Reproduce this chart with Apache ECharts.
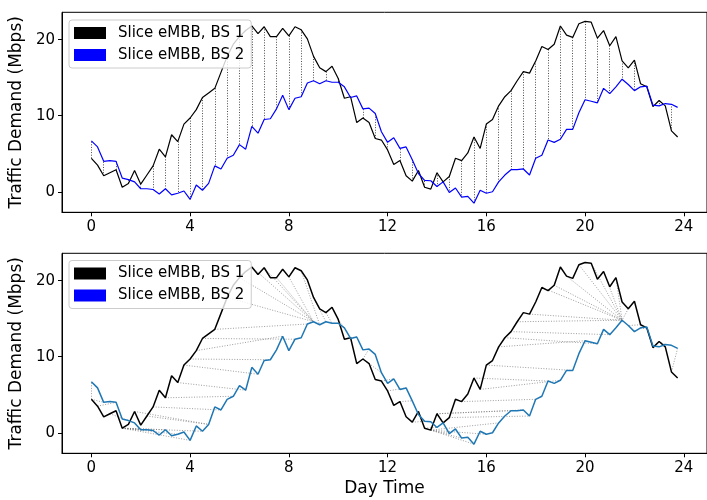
<!DOCTYPE html>
<html><head><meta charset="utf-8">
<script src="https://cdn.jsdelivr.net/npm/echarts@6/dist/echarts.min.js"></script>
<style>html,body{margin:0;padding:0;background:#fff}#c{width:707px;height:500px}</style>
</head><body><div id="c"></div>
<script>
// ---- data (15-minute samples over one day) ----
const timeStep = 0.25; // hours between samples
const bs1 = [4.4,3.5,2.1,2.5,2.9,0.6,1.1,2.8,1.0,2.2,
  3.4,5.6,4.6,7.5,6.6,8.9,9.7,10.8,12.4,13.0,
  13.6,15.7,17.8,19.4,20.4,21.2,21.8,20.8,21.7,20.4,
  20.4,21.5,20.5,21.7,21.3,20.1,17.8,16.3,15.8,16.5,
  14.9,12.3,12.5,9.1,9.7,9.1,7.0,6.8,5.5,3.6,
  4.1,2.1,1.4,2.8,0.6,0.35,2.5,1.3,2.0,4.4,
  4.1,5.1,7.2,5.7,8.9,9.5,11.3,12.5,13.3,14.6,
  15.8,15.6,17.2,19.1,18.7,19.4,21.8,20.6,20.3,22.1,
  22.4,22.3,20.2,21.2,19.2,20.4,17.2,16.3,17.3,14.2,
  13.8,11.2,12.0,11.3,8.0,7.2];
const bs2 = [6.7,5.9,4.0,4.1,4.0,1.8,1.6,1.3,0.4,0.4,
  0.3,-0.3,0.4,-0.4,-0.2,0.1,-1.0,0.9,0.2,1.1,
  3.4,3.0,4.4,4.8,6.2,5.6,8.6,7.7,9.5,9.6,
  10.9,12.7,10.8,12.3,12.5,14.3,14.6,14.2,14.6,14.4,
  14.4,13.8,12.4,12.6,10.9,11.0,10.3,7.9,6.5,7.1,
  5.7,5.9,4.2,2.4,1.5,1.45,0.7,1.3,-0.1,0.5,
  -0.7,-0.6,-1.5,0.2,-0.2,0.0,1.3,2.2,2.9,2.9,
  3.0,2.2,4.4,4.8,6.8,6.5,6.9,8.2,8.2,10.4,
  12.1,11.9,11.7,13.6,12.9,13.8,14.8,14.1,13.3,13.8,
  13.9,11.4,11.3,11.6,11.5,11.1];
const seriesNames = ['Slice eMBB, BS 1','Slice eMBB, BS 2'];
const xTicks = [0,4,8,12,16,20,24];
const yTicks = [0,10,20];

function toXY(arr){ return arr.map((v,i)=>[i*timeStep, v]); }

// dynamic time warping alignment between the two series
function dtwPath(a,b){
  const n=a.length,m=b.length,D=[];
  for(let i=0;i<n;i++){D.push(new Array(m).fill(Infinity));}
  for(let i=0;i<n;i++)for(let j=0;j<m;j++){
    const c=Math.abs(a[i]-b[j]);let best;
    if(i===0&&j===0)best=0;else{best=Infinity;
      if(i>0)best=Math.min(best,D[i-1][j]);
      if(j>0)best=Math.min(best,D[i][j-1]);
      if(i>0&&j>0)best=Math.min(best,D[i-1][j-1]);}
    D[i][j]=c+best;}
  let i=n-1,j=m-1;const path=[[i,j]];
  while(i>0||j>0){
    if(i===0)j--;else if(j===0)i--;else{
      const d=D[i-1][j-1],u=D[i-1][j],l=D[i][j-1];
      if(d<=u&&d<=l){i--;j--;}else if(u<=l)i--;else j--;}
    path.push([i,j]);}
  return path.reverse();
}

const vertLinks = bs1.map((v,i)=>i).filter(i=>i%2===0)
  .map(i=>({coords:[[i*timeStep,bs1[i]],[i*timeStep,bs2[i]]]}));
const dtwLinks = dtwPath(bs1,bs2).filter((p,k)=>k%2===0)
  .map(([i,j])=>({coords:[[i*timeStep,bs1[i]],[j*timeStep,bs2[j]]]}));

const FONT='DejaVu Sans';
function xAxisCfg(idx,withName){
  return {type:'value',gridIndex:idx,min:-1.19,max:24.94,
    axisLine:{show:true,onZero:false,lineStyle:{color:'#000',width:1}},
    axisTick:{show:true,length:4,customValues:xTicks,lineStyle:{color:'#000'}},
    axisLabel:{customValues:xTicks,color:'#000',fontFamily:FONT,fontSize:15,margin:7},
    splitLine:{show:false},
    name:withName?'Day Time':'',nameLocation:'middle',nameGap:27,
    nameTextStyle:{color:'#000',fontFamily:FONT,fontSize:17}};
}
function yAxisCfg(idx){
  return {type:'value',gridIndex:idx,min:-2.7,max:23.6,
    axisLine:{show:true,onZero:false,lineStyle:{color:'#000',width:1}},
    axisTick:{show:true,length:4,customValues:yTicks,lineStyle:{color:'#000'}},
    axisLabel:{customValues:yTicks,color:'#000',fontFamily:FONT,fontSize:15,margin:7},
    splitLine:{show:false},
    name:'Traffic Demand (Mbps)',nameLocation:'middle',nameGap:30,
    nameTextStyle:{color:'#000',fontFamily:FONT,fontSize:17}};
}
function legendCfg(top){
  return {top:top,left:69,orient:'vertical',icon:'rect',itemWidth:32,itemHeight:12,itemGap:6,
    padding:[5,7,5,5],backgroundColor:'rgba(255,255,255,0.8)',borderColor:'#cccccc',borderWidth:1,borderRadius:3,
    textStyle:{color:'#000',fontFamily:FONT,fontSize:15,lineHeight:16,padding:[0,0,0,7]},
    data:[{name:seriesNames[0],itemStyle:{color:'#000000',borderWidth:0}},
          {name:seriesNames[1],itemStyle:{color:'#0000ff',borderWidth:0}}]};
}

const chart = echarts.init(document.getElementById('c'),null,{renderer:'canvas'});
chart.setOption({
  animation:false,
  backgroundColor:'#fff',
  grid:[{left:62,top:12.3,width:652,height:200,show:true,borderColor:'#000',borderWidth:1,backgroundColor:'transparent'},
        {left:62,top:253.3,width:652,height:200,show:true,borderColor:'#000',borderWidth:1,backgroundColor:'transparent'}],
  xAxis:[xAxisCfg(0,false),xAxisCfg(1,true)],
  yAxis:[yAxisCfg(0),yAxisCfg(1)],
  legend:[legendCfg(20),legendCfg(260.5)],
  series:[
    {type:'lines',coordinateSystem:'cartesian2d',xAxisIndex:0,yAxisIndex:0,silent:true,z:1,
      lineStyle:{color:'#222',width:0.9,type:[1,1.6],opacity:0.9},data:vertLinks},
    {name:seriesNames[0],type:'line',xAxisIndex:0,yAxisIndex:0,showSymbol:false,symbol:'none',z:2,
      lineStyle:{color:'#000',width:1.2},itemStyle:{color:'#000'},data:toXY(bs1)},
    {name:seriesNames[1],type:'line',xAxisIndex:0,yAxisIndex:0,showSymbol:false,symbol:'none',z:3,
      lineStyle:{color:'#0000ff',width:1.2},itemStyle:{color:'#0000ff'},data:toXY(bs2)},
    {type:'lines',coordinateSystem:'cartesian2d',xAxisIndex:1,yAxisIndex:1,silent:true,z:1,
      lineStyle:{color:'#777',width:0.9,type:[1,1.6],opacity:0.8},data:dtwLinks},
    {name:seriesNames[0],type:'line',xAxisIndex:1,yAxisIndex:1,showSymbol:false,symbol:'none',z:2,
      lineStyle:{color:'#000',width:1.5},itemStyle:{color:'#000'},data:toXY(bs1)},
    {name:seriesNames[1],type:'line',xAxisIndex:1,yAxisIndex:1,showSymbol:false,symbol:'none',z:3,
      lineStyle:{color:'#1f77b4',width:1.5},itemStyle:{color:'#1f77b4'},data:toXY(bs2)}
  ]
});
</script></body></html>
